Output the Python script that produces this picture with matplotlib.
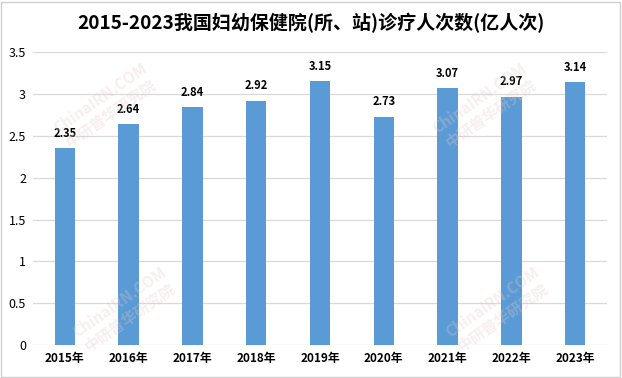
import matplotlib
matplotlib.use("Agg")
import matplotlib.pyplot as plt

plt.rcParams['font.family'] = ['Noto Sans CJK SC', 'DejaVu Sans']

# data
years = ["2015年", "2016年", "2017年", "2018年", "2019年", "2020年", "2021年", "2022年", "2023年"]
visits = [2.35, 2.64, 2.84, 2.92, 3.15, 2.73, 3.07, 2.97, 3.14]
yticks = [0, 0.5, 1, 1.5, 2, 2.5, 3, 3.5]
ytick_labels = ["0", "0.5", "1", "1.5", "2", "2.5", "3", "3.5"]
title = "2015-2023我国妇幼保健院(所、站)诊疗人次数(亿人次)"

fig = plt.figure(figsize=(6.22, 3.78), dpi=100, facecolor='white')
ax = fig.add_axes([0.053, 0.087, 0.923, 0.775])

x = range(len(years))
bars = ax.bar(x, visits, width=0.32, color='#5B9BD5', zorder=3)
for b, v in zip(bars, visits):
    ax.text(b.get_x() + b.get_width() / 2, v + 0.1, f"{v:.2f}",
            ha='center', va='bottom', fontsize=8, fontweight='bold', color='black')

ax.set_ylim(0, 3.5)
ax.set_xlim(-0.5, len(years) - 0.5)
ax.set_yticks(yticks)
ax.set_yticklabels(ytick_labels, fontsize=9)
ax.set_xticks(list(x))
ax.set_xticklabels(years, fontsize=8.5, fontweight='bold')
ax.tick_params(length=0, pad=5)
ax.grid(axis='y', color='#D9D9D9', linewidth=0.9, zorder=0)
for s in ax.spines.values():
    s.set_visible(False)

fig.text(0.5, 0.94, title, ha='center', va='center', fontsize=13.7, fontweight='bold')

# faint watermarks
for wx, wy in [(0.17, 0.72), (0.78, 0.72), (0.2, 0.18), (0.8, 0.18)]:
    fig.text(wx, wy, "ChinaIRN.COM\n中研普华研究院", ha='center', va='center',
             rotation=35, fontsize=11, fontweight='bold', color='#E8C8C8', alpha=0.3, zorder=0)

# outer frame
fig.patches.append(plt.Rectangle((0.002, 0.003), 0.995, 0.993, transform=fig.transFigure,
                                 fill=False, edgecolor='#D0D0D0', linewidth=1))

fig.savefig("out.png", dpi=100, facecolor='white')
